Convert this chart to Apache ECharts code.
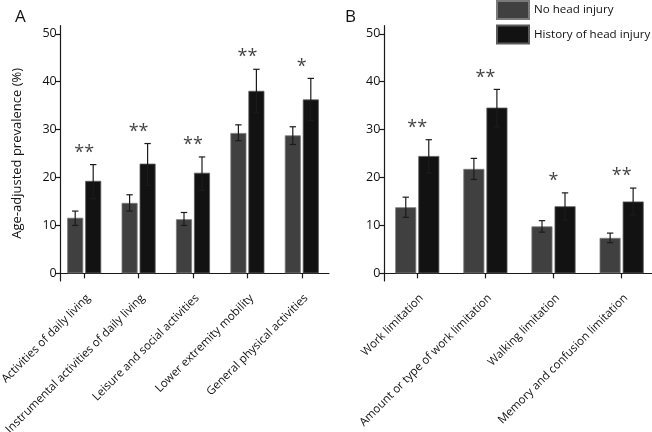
<!DOCTYPE html>
<html>
<head>
<meta charset="utf-8">
<script src="https://cdn.jsdelivr.net/npm/echarts@6/dist/echarts.min.js"></script>
<style>
html,body{margin:0;padding:0;background:#fff;}
#c{width:652px;height:432px;}
</style>
</head>
<body>
<div id="c"></div>
<script>
// ---- Data ----
const seriesNames = ['No head injury', 'History of head injury'];
const yTicks = [0, 10, 20, 30, 40, 50];

const catsA = ['Activities of daily living', 'Instrumental activities of daily living', 'Leisure and social activities', 'Lower extremity mobility', 'General physical activities'];
const noInjA = [11.6, 14.7, 11.3, 29.3, 28.8];
const noInjALo = [10.0, 13.0, 10.0, 27.7, 26.9];
const noInjAHi = [13.0, 16.4, 12.7, 31.0, 30.6];
const injA = [19.3, 22.9, 21.0, 38.1, 36.3];
const injALo = [15.6, 18.4, 17.3, 33.5, 31.9];
const injAHi = [22.7, 27.1, 24.3, 42.6, 40.7];
const starsA = ['**', '**', '**', '**', '*'];

const catsB = ['Work limitation', 'Amount or type of work limitation', 'Walking limitation', 'Memory and confusion limitation'];
const noInjB = [13.8, 21.8, 9.8, 7.4];
const noInjBLo = [11.7, 19.6, 8.6, 6.4];
const noInjBHi = [15.9, 24.0, 11.0, 8.4];
const injB = [24.5, 34.6, 14.0, 15.0];
const injBLo = [20.9, 30.5, 11.1, 12.2];
const injBHi = [27.9, 38.4, 16.8, 17.8];
const starsB = ['**', '**', '*', '**'];

// ---- Styles ----
const FONT = '"Open Sans", "Noto Sans", sans-serif';
const GRAY = '#404040';
const BLACK = '#121212';
const TXT = '#111';

const chart = echarts.init(document.getElementById('c'), null, {renderer: 'canvas'});

function errSeries(name, xi, yi, lo, hi, offsetPx) {
  return {
    name: name,
    type: 'custom',
    xAxisIndex: xi, yAxisIndex: yi,
    z: 5,
    silent: true,
    renderItem: function (params, api) {
      const c = api.value(0);
      const pLo = api.coord([c, api.value(1)]);
      const pHi = api.coord([c, api.value(2)]);
      const x = pLo[0] + offsetPx;
      const cap = 3.2;
      const st = {stroke: '#1b1b1b', lineWidth: 1.2};
      return {
        type: 'group',
        children: [
          {type: 'line', shape: {x1: x, y1: pLo[1], x2: x, y2: pHi[1]}, style: st},
          {type: 'line', shape: {x1: x - cap, y1: pLo[1], x2: x + cap, y2: pLo[1]}, style: st},
          {type: 'line', shape: {x1: x - cap, y1: pHi[1], x2: x + cap, y2: pHi[1]}, style: st}
        ]
      };
    },
    data: lo.map((v, i) => [i, v, hi[i]])
  };
}

function starSeries(xi, yi, hi, stars) {
  return {
    type: 'scatter',
    xAxisIndex: xi, yAxisIndex: yi,
    symbolSize: 0,
    silent: true,
    z: 6,
    label: {
      show: true, position: 'top', distance: 3,
      formatter: p => p.data[2],
      fontFamily: FONT, fontSize: 18, color: TXT
    },
    data: hi.map((v, i) => [i, v, stars[i]])
  };
}

function xAxisDef(gi, cats) {
  return {
    type: 'category', gridIndex: gi, data: cats,
    axisLine: {show: true, lineStyle: {color: '#1a1a1a', width: 1.2}},
    axisTick: {show: true, alignWithLabel: true, length: 5, lineStyle: {color: '#1a1a1a', width: 1.2}},
    axisLabel: {rotate: 45, margin: 11, verticalAlign: 'top', fontFamily: FONT, fontSize: 11.5, color: TXT, interval: 0},
    splitLine: {show: false}
  };
}

function yAxisDef(gi, name, offset) {
  return {
    type: 'value', gridIndex: gi, min: -1.6, max: 51.7,
    offset: offset,
    name: name, nameLocation: 'middle', nameGap: 37, nameRotate: 90,
    nameTextStyle: {fontFamily: FONT, fontSize: 13, color: TXT},
    axisLine: {show: true, onZero: false, lineStyle: {color: '#1a1a1a', width: 1.2}},
    axisTick: {show: true, length: 5, customValues: yTicks, lineStyle: {color: '#1a1a1a', width: 1.2}},
    axisLabel: {show: true, margin: 4, customValues: yTicks, fontFamily: FONT, fontSize: 12.5, color: TXT},
    splitLine: {show: false}
  };
}

const barStyleGray = {color: GRAY, borderColor: '#7a7a7a', borderWidth: 0.8};
const barStyleBlack = {color: BLACK, borderColor: '#5a5a5a', borderWidth: 0.8};

const option = {
  backgroundColor: '#fff',
  animation: false,
  textStyle: {fontFamily: FONT},
  title: [
    {text: 'A', left: 10, top: 4, textStyle: {fontFamily: FONT, fontSize: 17, fontWeight: 'normal', color: TXT}},
    {text: 'B', left: 340, top: 4, textStyle: {fontFamily: FONT, fontSize: 17, fontWeight: 'normal', color: TXT}}
  ],
  legend: {
    orient: 'vertical', left: 496, top: 0, padding: 0,
    itemWidth: 32, itemHeight: 18, itemGap: 4.5,
    icon: 'rect',
    data: seriesNames,
    textStyle: {fontFamily: FONT, fontSize: 11.6, color: TXT}
  },
  grid: [
    {left: 57, width: 272, top: 25.7, bottom: 151, outerBoundsMode: 'none', containLabel: false},
    {left: 383.2, width: 272.5, top: 25.7, bottom: 151, outerBoundsMode: 'none', containLabel: false}
  ],
  xAxis: [xAxisDef(0, catsA), xAxisDef(1, catsB)],
  yAxis: [yAxisDef(0, 'Age-adjusted prevalence (%)', -3.7), yAxisDef(1, '', -1.1)],
  series: [
    {name: seriesNames[0], type: 'bar', xAxisIndex: 0, yAxisIndex: 0, barWidth: 16, barGap: '12.5%', itemStyle: barStyleGray, data: noInjA},
    {name: seriesNames[1], type: 'bar', xAxisIndex: 0, yAxisIndex: 0, barWidth: 16, barGap: '12.5%', itemStyle: barStyleBlack, data: injA},
    errSeries(seriesNames[0], 0, 0, noInjALo, noInjAHi, -9),
    errSeries(seriesNames[1], 0, 0, injALo, injAHi, 9),
    starSeries(0, 0, injAHi, starsA),
    {name: seriesNames[0], type: 'bar', xAxisIndex: 1, yAxisIndex: 1, barWidth: 21, barGap: '10%', itemStyle: barStyleGray, data: noInjB},
    {name: seriesNames[1], type: 'bar', xAxisIndex: 1, yAxisIndex: 1, barWidth: 21, barGap: '10%', itemStyle: barStyleBlack, data: injB},
    errSeries(seriesNames[0], 1, 1, noInjBLo, noInjBHi, -11.5),
    errSeries(seriesNames[1], 1, 1, injBLo, injBHi, 11.5),
    starSeries(1, 1, injBHi, starsB)
  ]
};
chart.setOption(option);
</script>
</body>
</html>
